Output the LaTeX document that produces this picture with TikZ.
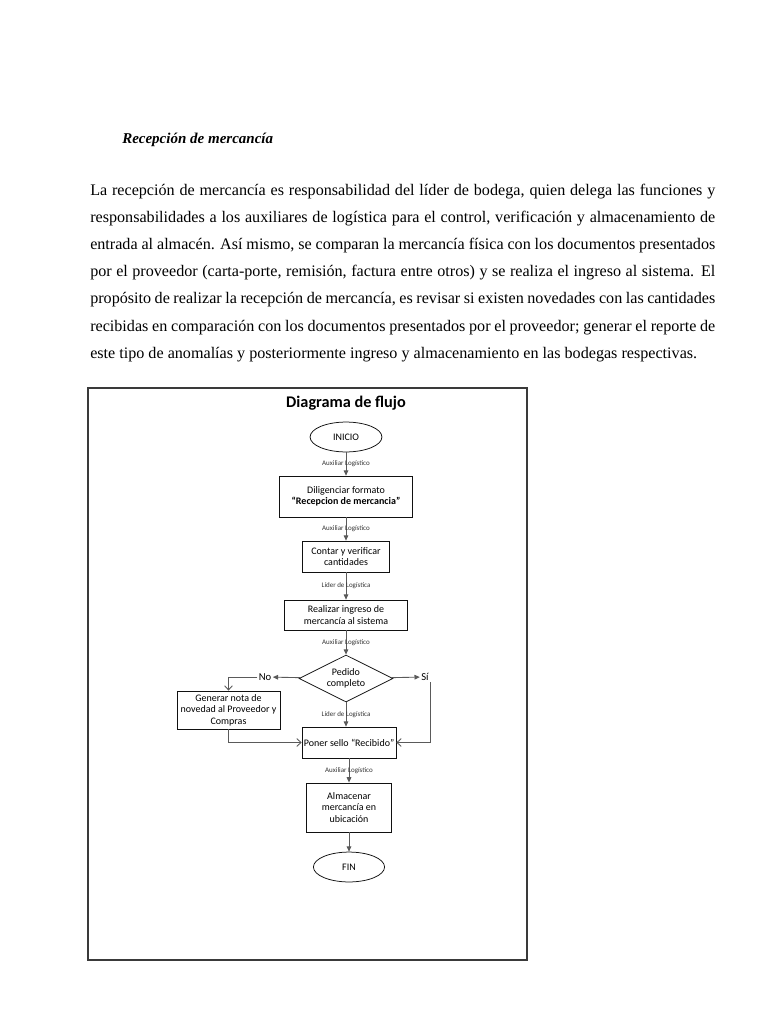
\documentclass[tikz,border=0pt]{standalone}
\usepackage{fontspec}
\setmainfont{Liberation Serif}
\newfontfamily\diafont{Carlito}
\usetikzlibrary{positioning,arrows.meta,shapes.geometric}
\definecolor{dink}{HTML}{111111}
\definecolor{dgry}{HTML}{5A5A5A}
\definecolor{dfrm}{HTML}{3A3A3A}
\newcommand\parafont{\fontsize{12.9}{15}\selectfont\spaceskip=0.25em plus 0.6em minus 0.13em\relax}
\tikzset{
  box/.style   ={draw=dink, line width=0.6pt, fill=white, inner sep=1pt,
                 align=center, font=\diafont\fontsize{8}{9.2}\selectfont},
  term/.style  ={box, ellipse},
  dec/.style   ={box, diamond, aspect=2, inner sep=0pt},
  note/.style  ={font=\diafont\fontsize{5.6}{6.5}\selectfont, text=dink!85, inner sep=0pt},
  ans/.style   ={font=\diafont\fontsize{8.5}{10}\selectfont, inner sep=1pt},
  para/.style  ={anchor=base west, inner sep=0pt, font=\parafont},
  flow/.style  ={-{Triangle[length=1.5mm,width=1.3mm]}, line width=0.7pt, draw=dgry},
  oflow/.style ={-{Straight Barb[length=1.2mm,width=2.2mm]}, line width=0.7pt, draw=dgry},
}

\begin{document}
\begin{tikzpicture}[x=0.2811mm, y=-0.2811mm]
  \fill[white] (0,0) rectangle (768,1024);
  % texto
  \node[para, font=\bfseries\itshape\fontsize{12}{14}\selectfont] (H) at (122,144) {Recepción de mercancía};
  \node[para] (p1) at (90,196) {\makebox[175.7mm][s]{La recepción de mercancía es responsabilidad del líder de bodega, quien delega las funciones y}};
  \node[para] (p2) at (90,223) {\makebox[175.7mm][s]{responsabilidades a los auxiliares de logística para el control, verificación y almacenamiento de}};
  \node[para] (p3) at (90,250) {\makebox[175.7mm][s]{entrada al almacén. Así mismo, se comparan la mercancía física con los documentos presentados}};
  \node[para] (p4) at (90,277) {\makebox[175.7mm][s]{por el proveedor (carta-porte, remisión, factura entre otros) y se realiza el ingreso al sistema. El}};
  \node[para] (p5) at (90,304) {\makebox[175.7mm][s]{propósito de realizar la recepción de mercancía, es revisar si existen novedades con las cantidades}};
  \node[para] (p6) at (90,331) {\makebox[175.7mm][s]{recibidas en comparación con los documentos presentados por el proveedor; generar el reporte de}};
  \node[para] (p7) at (90,358) {este tipo de anomalías y posteriormente ingreso y almacenamiento en las bodegas respectivas.};
  % diagrama
  \draw[draw=dfrm, line width=1pt] (88,388) rectangle (527,960);
  \node[font=\diafont\bfseries\fontsize{13}{15}\selectfont] (T) at (346,403) {Diagrama de flujo};
  \node[term, minimum width=20.2mm, minimum height=8.4mm] (I) at (346,437) {INICIO};
  \node[box, minimum width=37.4mm, minimum height=11.5mm] (B1) at (346,496.5) {Diligenciar formato\\\textbf{“Recepcion de mercancia”}};
  \node[box, minimum width=24.5mm, minimum height=8.7mm] (B2) at (346,556.5) {Contar y verificar\\cantidades};
  \node[box, minimum width=34.6mm, minimum height=8.4mm] (B3) at (346,615) {Realizar ingreso de\\mercancía al sistema};
  \node[dec, minimum width=26.4mm, minimum height=13.2mm] (D) at (346,678.5) {Pedido\\completo};
  \node[ans] (N) at (265,677) {No};
  \node[ans] (S) at (425,677) {Sí};
  \node[box, minimum width=29mm, minimum height=10.7mm] (G) at (228.5,710) {Generar nota de\\novedad al Proveedor y\\Compras};
  \node[box, minimum width=26.4mm, minimum height=8.7mm] (P) at (349,742.5) {Poner sello “Recibido”};
  \node[box, minimum width=23.9mm, minimum height=13.8mm] (A) at (349,807.5) {Almacenar\\mercancía en\\ubicación};
  \node[term, minimum width=20mm, minimum height=8.4mm] (F) at (349,867) {FIN};
  \draw[flow] (I) -- node[note]{Auxiliar Logístico} (B1);
  \draw[flow] (B1) -- node[note]{Auxiliar Logístico} (B2);
  \draw[flow] (B2) -- node[note]{Líder de Logística} (B3);
  \draw[flow] (B3) -- node[note]{Auxiliar Logístico} (D);
  \draw[flow] (D.south) -- node[note]{Líder de Logística} (D.south |- P.north);
  \draw[flow] (D) -- (N);
  \draw[flow] (D) -- (S);
  \draw[oflow] (N.west) -| (G.north);
  \draw[oflow] (G.south) |- (P.west);
  \draw[oflow] (S.south east) |- (P.east);
  \draw[flow] (P) -- node[note]{Auxiliar Logístico} (A);
  \draw[flow] (A) -- (F);
\end{tikzpicture}
\end{document}
